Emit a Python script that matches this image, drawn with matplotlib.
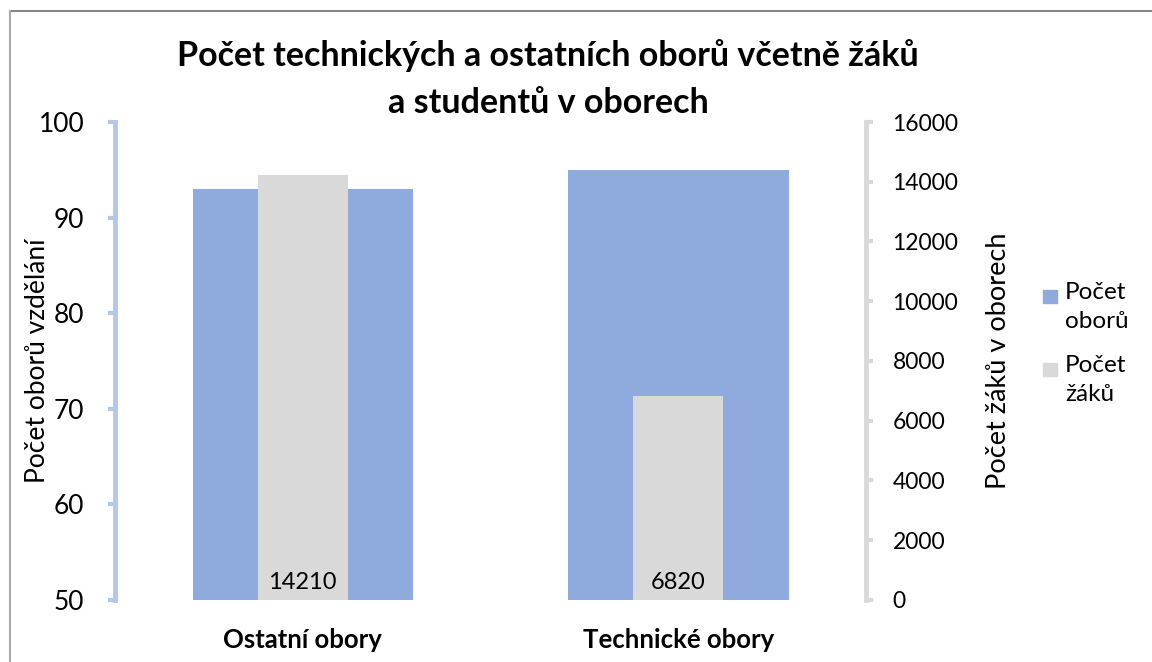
import numpy as np
import matplotlib
matplotlib.use("Agg")
import matplotlib.pyplot as plt
from matplotlib.patches import Rectangle
from matplotlib.lines import Line2D

plt.rcParams['font.family'] = ['Lato', 'DejaVu Sans']

categories = ['Ostatní obory', 'Technické obory']
pocet_oboru = [93, 95]
pocet_zaku = [14210, 6820]
legend_labels = ['Počet\noborů', 'Počet\nžáků']
title_lines = ['Počet technických a ostatních oborů včetně žáků',
               'a studentů v oborech']

blue = '#8FAADC'
gray = '#D9D9D9'

W, H = 1152, 662
fig = plt.figure(figsize=(W / 100, H / 100), dpi=100)
ax = fig.add_axes([0.0998, 0.0937, 0.652, 0.722])
ax2 = ax.twinx()

x = np.arange(len(categories))
ax.bar(x, pocet_oboru, width=0.587, color=blue, bottom=0, zorder=2)
bars = ax2.bar(x, pocet_zaku, width=0.24, color=gray, zorder=3)

ax.set_xlim(-0.5, 1.5)
ax.set_ylim(50, 100)
ax.set_yticks(np.arange(50, 101, 10))
ax2.set_ylim(0, 16000)
ax2.set_yticks(np.arange(0, 16001, 2000))

for s in ['top', 'right', 'bottom']:
    ax.spines[s].set_visible(False)
for s in ['top', 'left', 'bottom']:
    ax2.spines[s].set_visible(False)
ax.spines['left'].set_color('#B4C7E7')
ax.spines['left'].set_linewidth(3.5)
ax2.spines['right'].set_color(gray)
ax2.spines['right'].set_linewidth(3.5)

ax.tick_params(axis='y', direction='out', length=5, width=3, color='#B4C7E7',
               labelsize=19, pad=17)
ax2.tick_params(axis='y', direction='out', length=5, width=3, color=gray,
                labelsize=16.5, pad=14)
ax.tick_params(axis='x', length=0, pad=20)
ax.set_xticks(x)
ax.set_xticklabels(categories, fontsize=18.5, fontweight='bold')

ax.set_ylabel('Počet oborů vzdělání', fontsize=19)
ax.yaxis.set_label_coords(-0.087, 0.5)
ax2.set_ylabel('Počet žáků v oborech', fontsize=19.5)
ax2.yaxis.set_label_coords(1.16, 0.5)

for b, v in zip(bars, pocet_zaku):
    ax2.text(b.get_x() + b.get_width() / 2, 250, str(v), ha='center',
             va='bottom', fontsize=17, zorder=4)

# title, one text per line
for i, line in enumerate(title_lines):
    fig.text(0.476, 1 - (56 + i * 47) / H, line, fontsize=24.5,
             fontweight='bold', ha='center', va='center')

# legend drawn by hand: swatch lines up with the first text line
for i, (lab, col) in enumerate(zip(legend_labels, [blue, gray])):
    top = 290 + i * 73
    fig.add_artist(Rectangle((1043 / W, 1 - (top + 13) / H), 14 / W, 13 / H,
                             transform=fig.transFigure, color=col))
    fig.text(1065 / W, 1 - (top - 8) / H, lab, fontsize=17.5, va='top',
             ha='left', linespacing=1.45)

# chart frame
fig.add_artist(Line2D([10 / W, 1.0], [1 - 11 / H, 1 - 11 / H],
                      transform=fig.transFigure, color='#888888', lw=1.5))
fig.add_artist(Line2D([10 / W, 10 / W], [0.0, 1 - 11 / H],
                      transform=fig.transFigure, color='#AAAAAA', lw=1.5))

fig.savefig('out.png', dpi=100)
